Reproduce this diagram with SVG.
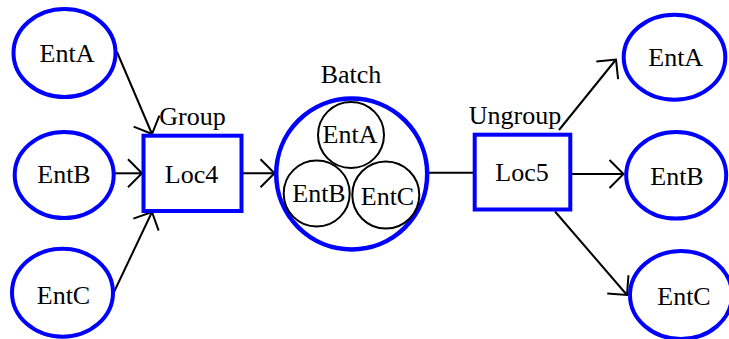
<svg xmlns="http://www.w3.org/2000/svg" width="729" height="339" viewBox="0 0 729 339" font-family="'Liberation Serif', 'Times New Roman', Times, serif">
  <style>
    text { font-family: "Liberation Serif", "Times New Roman", Times, serif; font-size: 26px; fill: #000; text-anchor: middle; }
    .ent { fill: #fff; stroke: #0000ff; stroke-width: 4; }
    .loc { fill: #fff; stroke: #0000ff; stroke-width: 4; }
    .batch { fill: #fff; stroke: #0000ff; stroke-width: 4.5; }
    .member { fill: #fff; stroke: #000; stroke-width: 2; }
    .edge { fill: none; stroke: #000; stroke-width: 2; }
  </style>
  <defs>
    <marker id="arrow" markerUnits="userSpaceOnUse" viewBox="-16 -16 18 32" markerWidth="18" markerHeight="32" refX="0" refY="0" orient="auto">
      <path d="M -14 -14 L 0 0 L -14 14" fill="none" stroke="#000" stroke-width="2"/>
    </marker>
  </defs>

  <rect width="729" height="339" fill="#fff"/>

  <!-- connectors -->
  <g id="connectors">
    <line class="edge" x1="117" y1="52" x2="152" y2="134" marker-end="url(#arrow)"/>
    <line class="edge" x1="114" y1="173.3" x2="142" y2="173.3" marker-end="url(#arrow)"/>
    <line class="edge" x1="114" y1="292" x2="152" y2="212" marker-end="url(#arrow)"/>
    <line class="edge" x1="242" y1="173.3" x2="274.5" y2="173.3" marker-end="url(#arrow)"/>
    <line class="edge" x1="429" y1="172.7" x2="473" y2="172.7"/>
    <line class="edge" x1="559" y1="130" x2="616" y2="59.5" marker-end="url(#arrow)"/>
    <line class="edge" x1="571" y1="174" x2="623.5" y2="174" marker-end="url(#arrow)"/>
    <line class="edge" x1="555" y1="211.5" x2="627" y2="295" marker-end="url(#arrow)"/>
  </g>

  <!-- source entities -->
  <g id="entA-in">
    <ellipse class="ent" cx="64.5" cy="53" rx="51" ry="44"/>
    <text x="67" y="62">EntA</text>
  </g>
  <g id="entB-in">
    <ellipse class="ent" cx="64.2" cy="175" rx="49.5" ry="43"/>
    <text x="64" y="183">EntB</text>
  </g>
  <g id="entC-in">
    <ellipse class="ent" cx="62.5" cy="292.7" rx="50.5" ry="44"/>
    <text x="63.5" y="304">EntC</text>
  </g>

  <!-- grouping location -->
  <g id="loc4">
    <rect class="loc" x="143.5" y="135.7" width="98" height="75.3"/>
    <text x="192.5" y="125">Group</text>
    <text x="191.5" y="183">Loc4</text>
  </g>

  <!-- batch holding the three entities -->
  <g id="batch">
    <text x="351" y="83.3">Batch</text>
    <circle class="batch" cx="351.7" cy="174" r="75.5"/>
    <circle class="member" cx="351" cy="135" r="33"/>
    <text x="350" y="143.3">EntA</text>
    <circle class="member" cx="316.7" cy="193.5" r="33"/>
    <text x="319" y="201.7">EntB</text>
    <circle class="member" cx="385.8" cy="195" r="33.5"/>
    <text x="387.5" y="205">EntC</text>
  </g>

  <!-- ungrouping location -->
  <g id="loc5">
    <rect class="loc" x="474.7" y="134.7" width="95.6" height="74.8"/>
    <text x="515" y="124">Ungroup</text>
    <text x="522" y="181">Loc5</text>
  </g>

  <!-- released entities -->
  <g id="entA-out">
    <ellipse class="ent" cx="674.5" cy="57.2" rx="50.8" ry="42.5"/>
    <text x="675.7" y="66">EntA</text>
  </g>
  <g id="entB-out">
    <ellipse class="ent" cx="676.2" cy="175.3" rx="50" ry="43.3"/>
    <text x="677" y="185">EntB</text>
  </g>
  <g id="entC-out">
    <ellipse class="ent" cx="681" cy="295" rx="51" ry="44"/>
    <text x="684" y="305">EntC</text>
  </g>
</svg>
